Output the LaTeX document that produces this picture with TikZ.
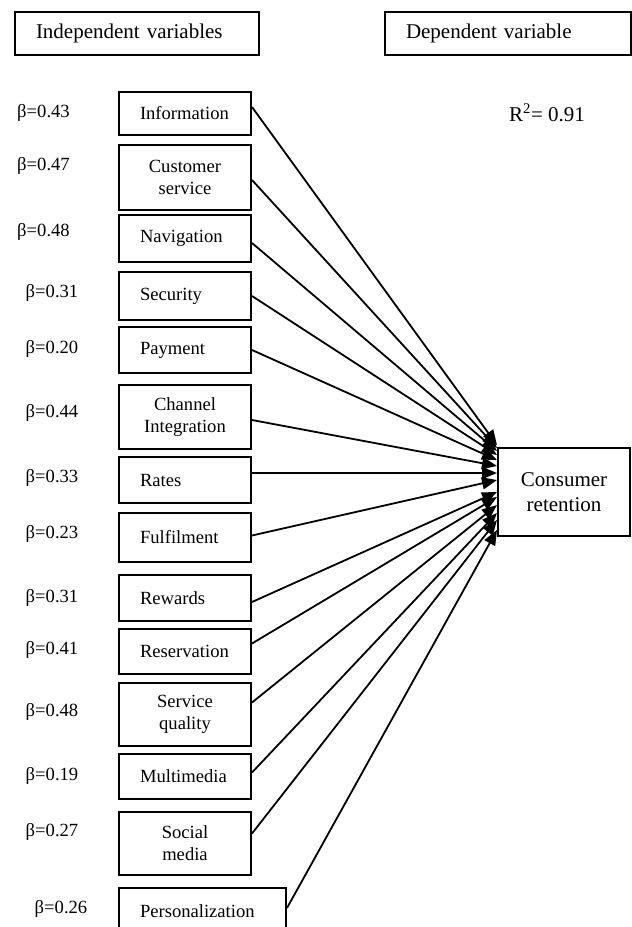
\documentclass[tikz,border=0pt]{standalone}
\usepackage{fontspec}
\setmainfont{Liberation Serif}
\usetikzlibrary{arrows.meta,calc}

\begin{document}
\begin{tikzpicture}[x=1pt,y=-1pt,
  every node/.style={font=\fontsize{18.6}{22}\selectfont},
  hdr/.style={draw, line width=2pt, minimum height=43pt, inner xsep=21pt, align=left, font=\fontsize{21}{25}\selectfont},
  var/.style={draw, line width=2pt, inner xsep=21pt, inner ysep=0pt, text width=90pt, align=left},
  var2/.style={var, align=center},
  dep/.style={draw, line width=2pt, minimum width=132pt, minimum height=88pt, align=center, font=\fontsize{21}{25}\selectfont},
  arr/.style={line width=1.8pt, -{Triangle[length=15pt,width=12pt]}}]
  \useasboundingbox (0,0) rectangle (632,927);
  \clip (0,0) rectangle (632,927);
  % headings
  \node[hdr, text width=202pt] (indep) at (137,33.5) {Independent variables};
  \node[hdr, text width=204pt] (depend) at (508,33.5) {Dependent variable};
  % predictors
  \node[var, minimum height=43pt] (info) at (185,113.5) {Information};
  \node[var2, minimum height=65pt] (cust) at (185,177.5) {Customer\\service};
  \node[var, minimum height=47pt] (navi) at (185,238.5) {Navigation};
  \node[var, minimum height=48pt] (secu) at (185,296) {Security};
  \node[var, minimum height=46pt] (paym) at (185,350) {Payment};
  \node[var2, minimum height=64pt] (chan) at (185,417) {Channel\\Integration};
  \node[var, minimum height=46pt] (rate) at (185,480) {Rates};
  \node[var, minimum height=49pt] (fulf) at (185,537.5) {Fulfilment};
  \node[var, minimum height=46pt] (rewa) at (185,598) {Rewards};
  \node[var, minimum height=45pt] (rese) at (185,651.5) {Reservation};
  \node[var2, minimum height=63pt] (serv) at (185,714.5) {Service\\quality};
  \node[var, minimum height=45pt] (mult) at (185,776.5) {Multimedia};
  \node[var2, minimum height=63pt] (soci) at (185,843.5) {Social\\media};
  \node[var, minimum height=47pt, text width=125pt] (pers) at (202.5,911.5) {Personalization};
  % coefficients
  \node (b1) at (43.5,113) {β=0.43};
  \node (b2) at (43.5,166) {β=0.47};
  \node (b3) at (43.5,232) {β=0.48};
  \node (b4) at (52,293) {β=0.31};
  \node (b5) at (52,349) {β=0.20};
  \node (b6) at (52,413) {β=0.44};
  \node (b7) at (52,478) {β=0.33};
  \node (b8) at (52,534) {β=0.23};
  \node (b9) at (52,598) {β=0.31};
  \node (b10) at (52,650) {β=0.41};
  \node (b11) at (52,712) {β=0.48};
  \node (b12) at (52,776) {β=0.19};
  \node (b13) at (52,832) {β=0.27};
  \node (b14) at (61,909) {β=0.26};
  % outcome
  \node[dep] (cr) at (564,492) {Consumer\\retention};
  \node[font=\fontsize{21}{25}\selectfont] (rsq) at (547,113) {R\textsuperscript{2}= 0.91};
  \foreach \src/\dy/\ey in {info/-6.5/-47, cust/2.5/-44, navi/4.5/-41, secu/0/-37,
      paym/0/-32, chan/3/-26, rate/-7/-19, fulf/-2/-12, rewa/4/0, rese/-8/5,
      serv/-12/13, mult/-4/21, soci/-10/28, pers/-3.5/38}
    \draw[arr] ($(\src.east)+(0,\dy)$) -- ($(cr.west)+(0,\ey)$);
\end{tikzpicture}
\end{document}
